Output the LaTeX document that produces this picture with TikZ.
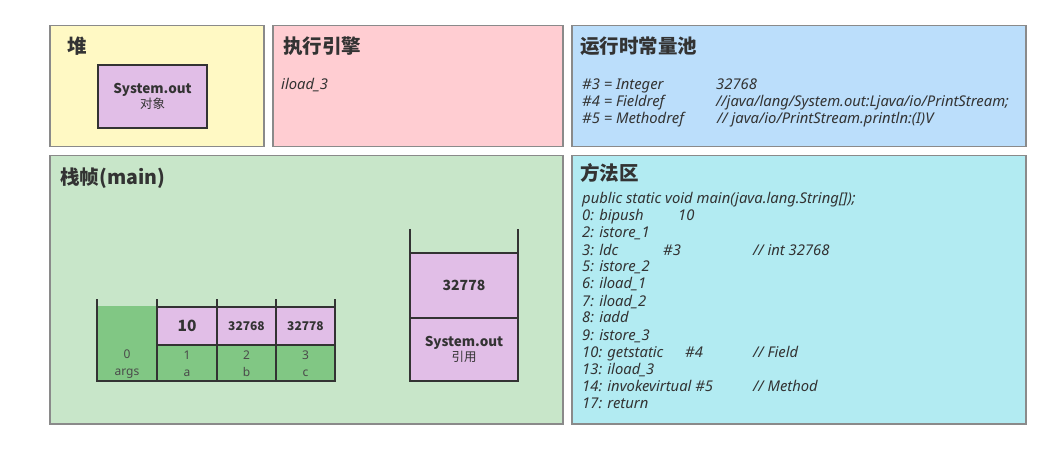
\documentclass[tikz,border=0pt]{standalone}
\usepackage{fontspec}
\setmainfont{Noto Sans}
\newfontfamily\cjk{Noto Sans CJK SC}
\usetikzlibrary{positioning}
\definecolor{heapc}{HTML}{FFF9C4}
\definecolor{enginec}{HTML}{FFCDD2}
\definecolor{poolc}{HTML}{BBDEFB}
\definecolor{framec}{HTML}{C8E6C9}
\definecolor{methodc}{HTML}{B2EBF2}
\definecolor{purp}{HTML}{E1BEE7}
\definecolor{slotgreen}{HTML}{81C784}
\definecolor{edgegray}{HTML}{8A8A8A}
\definecolor{ink}{HTML}{333333}
\definecolor{lab}{HTML}{4A4A4A}

\begin{document}
\begin{tikzpicture}[x=1pt, y=-1pt,
  panel/.style={draw=edgegray, line width=1.5pt, anchor=north west, inner sep=0pt},
  title/.style={anchor=west, inner sep=0pt, text=ink, font=\cjk\bfseries\fontsize{19.5}{21}\selectfont},
  code/.style={anchor=base west, inner sep=0pt, text=ink, font=\itshape\fontsize{14.8}{17}\selectfont},
  cell/.style={draw=ink, fill=purp, line width=1.5pt, inner sep=0pt, text=ink, align=center},
  slot/.style={inner sep=0pt, align=center, text=lab, font=\fontsize{12}{17}\selectfont}
]
  \useasboundingbox (0,0) rectangle (1050,449);

  % panels
  \node[panel, fill=heapc,   minimum width=214pt, minimum height=121pt] (heap)   at (49,25)  {};
  \node[panel, fill=enginec, minimum width=290pt, minimum height=121pt] (engine) at (272,25) {};
  \node[panel, fill=poolc,   minimum width=454pt, minimum height=121pt] (pool)   at (571,25) {};
  \node[panel, fill=framec,  minimum width=513pt, minimum height=268pt] (frame)  at (49,155) {};
  \node[panel, fill=methodc, minimum width=454pt, minimum height=268pt] (method) at (571,155) {};

  \node[title] (heapt)   at (67,46)  {堆};
  \node[title] (enginet) at (283,46) {执行引擎};
  \node[title] (poolt)   at (580,46) {运行时常量池};
  \node[title] (framet)  at (60,178) {栈帧(main)};
  \node[title] (methodt) at (580,173) {方法区};

  % heap object
  \node[cell, minimum width=109pt, minimum height=63pt] (obj) at (152.5,96.5)
    {{\cjk\bfseries\fontsize{13.5}{17}\selectfont System.out}\\{\cjk\fontsize{12.5}{15}\selectfont 对象}};

  % engine
  \node[code] (cur) at (281,90) {iload\_3};

  % constant pool
  \node[code] (c3)  at (582,90)    {\#3 = Integer};
  \node[code] (c3v) at (716,90)    {32768};
  \node[code] (c4)  at (582,107)   {\#4 = Fieldref};
  \node[code] (c4v) at (716,107)   {//java/lang/System.out:Ljava/io/PrintStream;};
  \node[code] (c5)  at (582,123.5) {\#5 = Methodref};
  \node[code] (c5v) at (717,123.5) {// java/io/PrintStream.println:(I)V};

  % method area
  \node[code] (m0)  at (582,204) {public static void main(java.lang.String[]);};
  \node[code] (m1)  at (582,221) {0: bipush};
  \node[code] (m1a) at (678,221) {10};
  \node[code] (m2)  at (582,238) {2: istore\_1};
  \node[code] (m3)  at (582,255) {3: ldc};
  \node[code] (m3a) at (663,255) {\#3};
  \node[code] (m3b) at (753,255) {// int 32768};
  \node[code] (m4)  at (582,272) {5: istore\_2};
  \node[code] (m5)  at (582,289) {6: iload\_1};
  \node[code] (m6)  at (582,306) {7: iload\_2};
  \node[code] (m7)  at (582,323) {8: iadd};
  \node[code] (m8)  at (582,340) {9: istore\_3};
  \node[code] (m9)  at (582,357) {10: getstatic};
  \node[code] (m9a) at (685,357) {\#4};
  \node[code] (m9b) at (753,357) {// Field};
  \node[code] (m10) at (582,374) {13: iload\_3};
  \node[code] (m11) at (582,391) {14: invokevirtual \#5};
  \node[code] (m11b) at (753,391) {// Method};
  \node[code] (m12) at (582,408) {17: return};

  % local variable table
  \fill[slotgreen] (97,306) rectangle (157,381);
  \fill[slotgreen] (157,345) rectangle (335,381);
  \node[slot] (s0) at (127,364) {0\\args};
  \node[slot] (s1) at (187,364) {1\\a};
  \node[slot] (s2) at (246.5,364) {2\\b};
  \node[slot] (s3) at (305.5,364) {3\\c};
  \node[cell, minimum width=60pt, minimum height=38pt, font=\cjk\bfseries\fontsize{15.5}{17}\selectfont] (v1) at (187,326) {10};
  \node[cell, minimum width=59pt, minimum height=38pt, font=\cjk\bfseries\fontsize{12}{13}\selectfont] (v2) at (246.5,326) {32768};
  \node[cell, minimum width=59pt, minimum height=38pt, font=\cjk\bfseries\fontsize{12}{13}\selectfont] (v3) at (305.5,326) {32778};
  \draw[ink, line width=1.5pt] (97,299) |- (335,381) -- (335,299);
  \foreach \x in {157,217,276}
    \draw[ink, line width=1.5pt] (\x,299) -- (\x,381);

  % operand stack
  \node[cell, minimum width=108pt, minimum height=65pt, font=\cjk\bfseries\fontsize{14}{16}\selectfont] (top) at (464,285.5) {32778};
  \node[cell, minimum width=108pt, minimum height=63pt] (ref) at (464,349.5)
    {{\cjk\bfseries\fontsize{13.5}{17}\selectfont System.out}\\{\cjk\fontsize{12.5}{15}\selectfont 引用}};
  \draw[ink, line width=1.5pt] (410,229) |- (518,381) -- (518,229);
\end{tikzpicture}
\end{document}
